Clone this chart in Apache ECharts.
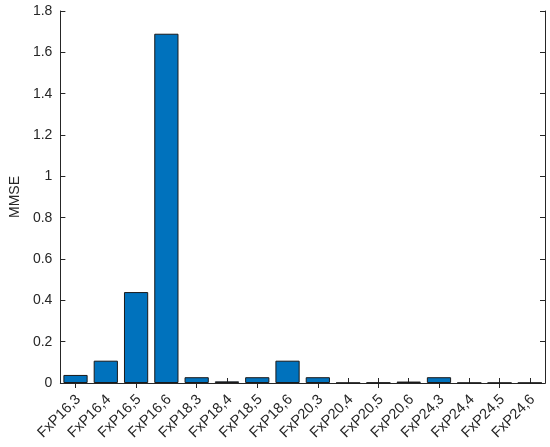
<!DOCTYPE html>
<html>
<head>
<meta charset="utf-8">
<script src="https://cdn.jsdelivr.net/npm/echarts@6/dist/echarts.min.js"></script>
<style>html,body{margin:0;padding:0;background:#fff;}#c{width:550px;height:447px;}</style>
</head>
<body>
<div id="c"></div>
<script>
const categories = ['FxP16,3','FxP16,4','FxP16,5','FxP16,6','FxP18,3','FxP18,4','FxP18,5','FxP18,6','FxP20,3','FxP20,4','FxP20,5','FxP20,6','FxP24,3','FxP24,4','FxP24,5','FxP24,6'];
const mmse = [0.039, 0.108, 0.44, 1.69, 0.028, 0.008, 0.028, 0.108, 0.028, 0.001, 0.002, 0.007, 0.028, 0.001, 0.001, 0.001];
const yTicks = [0, 0.2, 0.4, 0.6, 0.8, 1, 1.2, 1.4, 1.6, 1.8];

const chart = echarts.init(document.getElementById('c'));
const font = 'Liberation Sans, Arial, sans-serif';
const axisLineStyle = {color: '#262626', width: 1};
chart.setOption({
  animation: false,
  grid: {left: 57, right: 5, top: 11, bottom: 64, containLabel: false},
  xAxis: [{
    type: 'category', data: categories, position: 'bottom',
    axisLine: {show: true, lineStyle: axisLineStyle},
    axisTick: {show: true, inside: true, length: 5, alignWithLabel: true, lineStyle: axisLineStyle},
    axisLabel: {rotate: 45, color: '#262626', fontSize: 14.5, fontFamily: font, margin: 17, interval: 0,
      padding: [0, -4, 0, 0]}
  }, {
    type: 'category', data: categories, position: 'top',
    axisLine: {show: true, lineStyle: axisLineStyle},
    axisTick: {show: true, inside: true, length: 5, alignWithLabel: true, lineStyle: axisLineStyle},
    axisLabel: {show: false}
  }],
  yAxis: [{
    type: 'value', min: 0, max: 1.8, interval: 0.2, position: 'left',
    name: 'MMSE', nameLocation: 'middle', nameGap: 37, nameRotate: 90,
    nameTextStyle: {color: '#262626', fontSize: 14, fontFamily: font},
    axisLine: {show: true, lineStyle: axisLineStyle},
    axisTick: {show: true, inside: true, length: 5, lineStyle: axisLineStyle},
    splitLine: {show: false},
    axisLabel: {color: '#262626', fontSize: 14, fontFamily: font, margin: 8,
      formatter: v => { const t = yTicks.find(x => Math.abs(x - v) < 1e-9); return t === undefined ? '' : String(t); }}
  }, {
    type: 'value', min: 0, max: 1.8, interval: 0.2, position: 'right',
    axisLine: {show: true, lineStyle: axisLineStyle},
    axisTick: {show: true, inside: true, length: 5, lineStyle: axisLineStyle},
    splitLine: {show: false},
    axisLabel: {show: false}
  }],
  series: [{
    type: 'bar', data: mmse, xAxisIndex: 0, yAxisIndex: 0,
    barCategoryGap: '20%',
    itemStyle: {color: '#0072BD', borderColor: '#1a1a1a', borderWidth: 1}
  }]
});
</script>
</body>
</html>
